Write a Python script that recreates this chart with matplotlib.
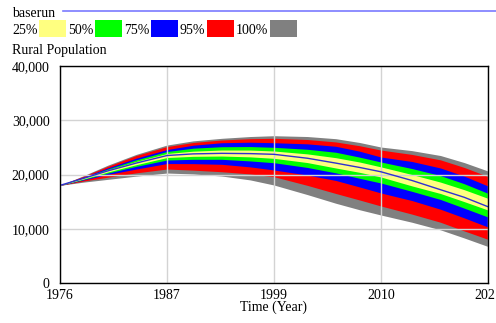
import numpy as np
import matplotlib.pyplot as plt
from matplotlib.patches import Rectangle

# read-off values (Rural Population sensitivity bands)
years = [1976, 1978.5, 1981, 1984, 1987.25, 1990, 1993, 1996, 1998.5,
         2002, 2005, 2007.5, 2009.75, 2013, 2016, 2018.5, 2021]
median = [18000, 19300, 20650, 22100, 23500, 23800, 23900, 23850, 23720,
          23000, 22100, 21300, 20500, 18900, 17200, 15800, 14060]
yellow_top = [18000, 19400, 20850, 22400, 23870, 24300, 24510, 24500, 24330,
              23800, 23100, 22300, 21400, 20000, 18600, 17200, 15610]
green_top = [18000, 19450, 21000, 22700, 24240, 24850, 25120, 25150, 25010,
             24650, 24100, 23200, 22300, 21100, 19800, 18300, 16530]
blue_top = [18000, 19550, 21200, 23000, 24600, 25400, 25860, 25950, 25860,
            25650, 25200, 24300, 23220, 22400, 21200, 19700, 17880]
red_top = [18000, 19700, 21500, 23500, 25150, 25900, 26360, 26600, 26670,
           26450, 26000, 25300, 24500, 23700, 22700, 21300, 19630]
gray_top = [18000, 19800, 21700, 23700, 25430, 26200, 26670, 27000, 27150,
            27000, 26600, 25900, 25060, 24400, 23500, 22200, 20640]
yellow_bot = [18000, 19200, 20450, 21800, 23130, 23350, 23400, 23250, 22980,
              22200, 21200, 20400, 19540, 17900, 16500, 15000, 13450]
green_bot = [18000, 19100, 20250, 21500, 22670, 22800, 22800, 22500, 22170,
             21300, 20300, 19300, 18430, 16900, 15400, 13800, 12160]
blue_bot = [18000, 19000, 20000, 21000, 22020, 22000, 21880, 21400, 20830,
            19900, 18900, 17700, 16590, 15200, 13600, 12000, 10320]
red_bot = [18000, 18800, 19500, 20300, 21010, 20800, 20510, 20100, 19590,
           18000, 16500, 15300, 14190, 12700, 11200, 9600, 8050]
gray_bot = [18000, 18600, 19100, 19700, 20270, 20100, 19720, 19000, 18060,
            16300, 14700, 13500, 12530, 11200, 9800, 8300, 6730]

legend_labels = ["25%", "50%", "75%", "95%", "100%"]
legend_colors = ["#ffff80", "#00ff00", "#0000ff", "#ff0000", "#808080"]

x_ticks = [1976, 1987.25, 1998.5, 2009.75, 2021]
x_ticklabels = ["1976", "1987", "1999", "2010", "2021"]
y_ticks = [0, 10000, 20000, 30000, 40000]

plt.rcParams['font.family'] = ['Liberation Serif', 'DejaVu Serif']

fig = plt.figure(figsize=(4.96, 3.23), dpi=100)
ax = fig.add_axes([60/496, 1 - 283/323, 428/496, 217/323])

ax.fill_between(years, gray_bot, gray_top, color="#808080", lw=0)
ax.fill_between(years, red_bot, red_top, color="#ff0000", lw=0)
ax.fill_between(years, blue_bot, blue_top, color="#0000ff", lw=0)
ax.fill_between(years, green_bot, green_top, color="#00ff00", lw=0)
ax.fill_between(years, yellow_bot, yellow_top, color="#ffff80", lw=0)
ax.plot(years, median, color="#3030d0", lw=1)

ax.set_xlim(1976, 2021)
ax.set_ylim(0, 40000)
ax.set_xticks(x_ticks)
ax.set_xticklabels(x_ticklabels)
ax.set_yticks(y_ticks)
ax.set_yticklabels([f"{v:,}" for v in y_ticks])
ax.grid(True, color="#d3d3d3", lw=1)
for ln in ax.get_xgridlines() + ax.get_ygridlines():
    ln.set_zorder(3)
ax.tick_params(length=0, labelsize=10)
ax.tick_params(axis="x", pad=4)
ax.tick_params(axis="y", pad=7.5)
for s in ax.spines.values():
    s.set_linewidth(1)
    s.set_zorder(4)
ax.set_xlabel("Time (Year)", fontsize=10, labelpad=-1)

# legend header
fig.text(12/496, 1 - 17/323, "baserun", fontsize=10, va="baseline")
fig.add_artist(plt.Line2D([63/496, 1], [1 - 10.5/323] * 2, color="#7a7aff", lw=1.2))
x = 12
for lab, col in zip(legend_labels, legend_colors):
    fig.text(x/496, 1 - 34/323, lab, fontsize=10, va="baseline")
    w = 26 if lab != "100%" else 33
    x += w + 1
    fig.add_artist(Rectangle((x/496, 1 - 37/323), 27/496, 17/323,
                             facecolor=col, edgecolor="none", transform=fig.transFigure))
    x += 29
fig.text(12/496, 1 - 54/323, "Rural Population", fontsize=10, va="baseline")

fig.savefig("out.png", dpi=100)
